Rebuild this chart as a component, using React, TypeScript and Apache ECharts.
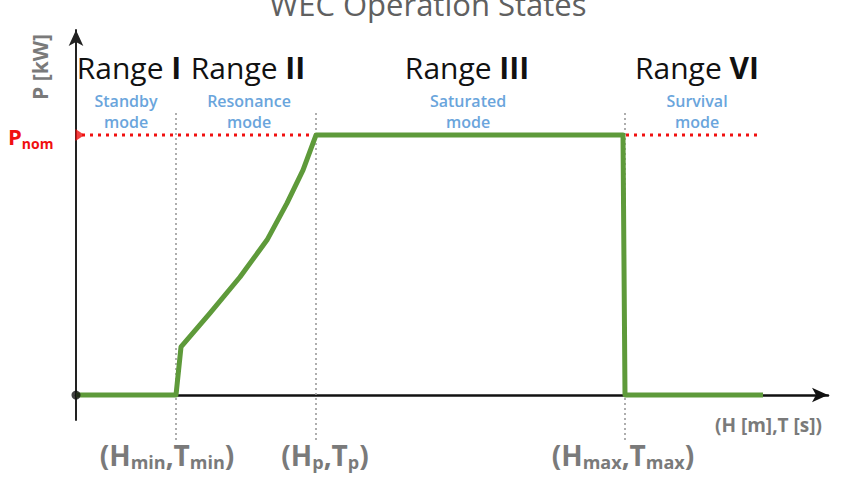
import React, { useEffect, useRef } from "react";
import * as echarts from "echarts";

// Power curve of the WEC (arbitrary units: x = sea state, y = power, Pnom = 100)
const curveX = [0, 10, 10.5, 13.4, 16.4, 19.1, 21.1, 22.7, 24, 54.7, 54.9, 68.7];
const curveY = [0, 0, 18.5, 31.5, 45.4, 59.6, 73.8, 86.5, 100, 100, 0, 0];
const pNom = 100;
const pNomLineX = [0.6, 68.1];
const boundaryX = [10, 24, 54.9];
const boundaryY = [-17.3, 109.6];
const rangeNames = ["I", "II", "III", "VI"];
const modeNames = ["Standby", "Resonance", "Saturated", "Survival"];
const boundaryLabels = [
  ["min", "min"],
  ["p", "p"],
  ["max", "max"],
];

const FONT = "'Open Sans', 'Noto Sans', sans-serif";
const GRAY = "#7a7a7a";
const BLUE = "#6aa5dc";
const RED = "#f01010";
const GREEN = "#5e9a3a";

export default function App() {
  const ref = useRef<HTMLDivElement>(null);
  useEffect(() => {
    if (!ref.current) return;
    const chart = echarts.init(ref.current, undefined, { renderer: "svg" });

    const rangeCenters = [129, 248, 467, 697];
    const modeCenters = [126, 249, 468, 697];
    const bottomCenters = [167, 325, 623];

    const graphics: any[] = [
      {
        type: "text",
        x: 428,
        y: 4,
        style: {
          text: "WEC Operation States",
          font: `normal 31px ${FONT}`,
          fill: "#606060",
          align: "center",
          verticalAlign: "middle",
        },
      },
      {
        type: "text",
        x: 40,
        y: 67,
        rotation: Math.PI / 2,
        style: {
          text: "P [kW]",
          font: `bold 21px ${FONT}`,
          fill: GRAY,
          align: "center",
          verticalAlign: "middle",
        },
      },
      {
        type: "text",
        x: 8,
        y: 136,
        style: {
          text: "{b|P}{s|nom}",
          align: "left",
          verticalAlign: "middle",
          rich: {
            b: { font: `bold 22px ${FONT}`, fill: RED, lineHeight: 28 },
            s: { font: `bold 14px ${FONT}`, fill: RED, lineHeight: 28, padding: [14, 0, 0, 0] },
          },
        },
      },
      {
        type: "text",
        x: 715,
        y: 425,
        style: {
          text: "(H [m],T [s])",
          font: `bold 19px ${FONT}`,
          fill: GRAY,
          align: "left",
          verticalAlign: "middle",
        },
      },
    ];

    rangeNames.forEach((r, i) => {
      graphics.push({
        type: "text",
        x: rangeCenters[i],
        y: 67,
        style: {
          text: `{n|Range }{b|${r}}`,
          align: "center",
          verticalAlign: "middle",
          rich: {
            n: { font: `normal 30px ${FONT}`, fill: "#111" },
            b: { font: `bold 30px ${FONT}`, fill: "#111" },
          },
        },
      });
    });
    modeNames.forEach((m, i) => {
      graphics.push({
        type: "text",
        x: modeCenters[i],
        y: 111,
        style: {
          text: `${m}\nmode`,
          font: `600 16px ${FONT}`,
          fill: BLUE,
          align: "center",
          verticalAlign: "middle",
          lineHeight: 21,
        },
      });
    });
    boundaryLabels.forEach((b, i) => {
      graphics.push({
        type: "text",
        x: bottomCenters[i],
        y: 455,
        style: {
          text: `{b|(H}{s|${b[0]}}{b|,T}{s|${b[1]}}{b|)}`,
          align: "center",
          verticalAlign: "middle",
          rich: {
            b: { font: `bold 28px ${FONT}`, fill: GRAY, lineHeight: 36 },
            s: { font: `bold 18px ${FONT}`, fill: GRAY, lineHeight: 36, padding: [13, 0, 0, 0] },
          },
        },
      });
    });

    const boundarySeries = boundaryX.map((bx) => ({
      type: "line",
      data: boundaryY.map((by) => [bx, by]),
      symbol: "none",
      clip: false,
      silent: true,
      lineStyle: { color: "#9a9a9a", width: 1.6, type: [2, 3] },
      z: 1,
    }));

    chart.setOption({
      animation: false,
      backgroundColor: "#ffffff",
      grid: { left: 76, right: 15, top: 30, bottom: 57 },
      xAxis: {
        type: "value",
        min: 0,
        max: 75.2,
        axisLine: {
          onZero: true,
          symbol: ["none", "arrow"],
          symbolSize: [11, 16],
          lineStyle: { color: "#111", width: 2.5 },
        },
        axisTick: { show: false },
        axisLabel: { show: false },
        splitLine: { show: false },
      },
      yAxis: {
        type: "value",
        min: -9.6,
        max: 140.4,
        axisLine: {
          show: true,
          onZero: false,
          symbol: ["none", "arrow"],
          symbolSize: [11, 16],
          lineStyle: { color: "#222", width: 2 },
        },
        axisTick: { show: false },
        axisLabel: { show: false },
        splitLine: { show: false },
      },
      series: [
        ...boundarySeries,
        {
          type: "line",
          data: pNomLineX.map((x) => [x, pNom]),
          symbol: "none",
          silent: true,
          lineStyle: { color: RED, width: 3, type: [3, 5] },
          z: 2,
        },
        {
          type: "line",
          data: curveX.map((x, i) => [x, curveY[i]]),
          symbol: "none",
          silent: true,
          lineStyle: { color: GREEN, width: 5, join: "round" },
          z: 3,
        },
        {
          type: "scatter",
          data: [[0.4, pNom]],
          symbol: "triangle",
          symbolRotate: -90,
          symbolSize: [12, 9],
          itemStyle: { color: RED },
          silent: true,
          z: 4,
        },
        {
          type: "scatter",
          data: [[0, 0]],
          symbol: "circle",
          symbolSize: 9,
          itemStyle: { color: "#111" },
          silent: true,
          z: 4,
        },
      ],
      graphic: graphics,
    });
    return () => chart.dispose();
  }, []);
  return (
    <div
      ref={ref}
      style={{ position: "fixed", left: 0, top: 0, width: 843, height: 477 }}
    />
  );
}
